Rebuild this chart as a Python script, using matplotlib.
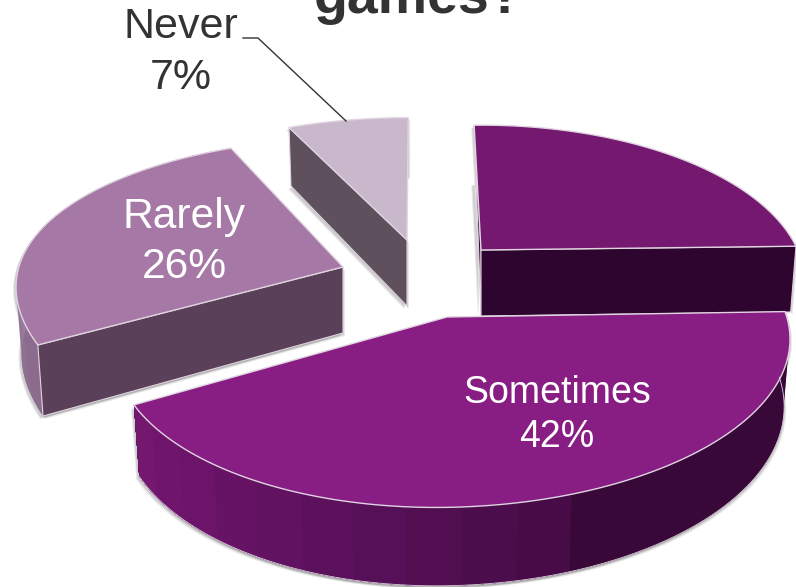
#!/usr/bin/python3
import numpy as np
import matplotlib
matplotlib.use('Agg')
import matplotlib.pyplot as plt
from matplotlib.patches import Polygon

# share of answers, clockwise from twelve o'clock; first slice has no label
categories = ["", "Sometimes", "Rarely", "Never"]
shares = [25, 42, 26, 7]

title = "games?"

# slice layout in pixels: apex of the top face, radii and perspective
apex_x = [481, 447, 343, 407]
apex_y = [250, 317, 267, 240]
radius_right = [315, 338, 313, 313]
radius_left = [315, 328, 313, 333]
radius_y = [151, 158, 154, 148]
perspective = [0.21, 0.17, 0.21, 0.21]
shear_x = [0.055, 0.0, 0.0, -0.01]
shear_y = [-0.012, -0.016, 0.015, 0.0]
bulge = [0.0, 0.0, 0.037, 0.0]

top_colors = ["#751870", "#881d83", "#a678a5", "#c9b8cc"]
face_colors = ["#2e052f", "#2e052f", "#5a4058", "#5e505c"]
edge_color = "#e0d4e0"

# depth of the pie and how the lower rim differs from the upper one
depth = 66
bottom_scale_x = 0.983
bottom_scale_y = 1.065

# wall shading by angle in degrees, stepped like a faceted render
wall_stops = {
    1: ([0, 70, 75, 100, 130, 152], ["#380838", "#380838", "#460c46", "#561058", "#6a1468", "#751870"]),
    2: ([152, 180, 200], ["#8a6a8c", "#9a7a9c", "#9a7a9c"]),
}


def slice_offsets(i, theta, start, end):
    t = np.radians(theta)
    s = 1.0 / (1.0 - perspective[i] * np.sin(t))
    rx = np.where(np.cos(t) >= 0, radius_right[i], radius_left[i])
    swell = 1.0 + bulge[i] * np.sin(np.pi * (theta - start) / (end - start))
    x = rx * np.cos(t) * s * swell
    y = radius_y[i] * np.sin(t) * s
    return x + shear_x[i] * y, y + shear_y[i] * x


def top_rim(i, theta, start, end):
    x, y = slice_offsets(i, theta, start, end)
    return apex_x[i] + x, apex_y[i] + y


def bottom_rim(i, theta, start, end):
    x, y = slice_offsets(i, theta, start, end)
    return apex_x[i] + x * bottom_scale_x, apex_y[i] + depth + y * bottom_scale_y


def wall_color(i, theta):
    angles, colors = wall_stops[i]
    rgb = np.array([matplotlib.colors.to_rgb(c) for c in colors])
    return [np.interp(theta % 360, angles, rgb[:, k]) for k in range(3)]


def draw_shadow(ax, xs, ys):
    pts = np.column_stack([xs, ys])
    for off, alpha in [((-3, 3), 0.12), ((-2, 2), 0.18), ((2, 3), 0.12), ((1, 2), 0.18)]:
        ax.add_patch(Polygon(pts + np.array(off), closed=True, fc="#555555", ec="none", alpha=alpha))


def draw_wall(ax, i, start, end):
    # curved outer wall in bands; each band runs on to the end of the wall
    # and the next one paints over it, so no seams show
    step = 8.0
    edges = np.arange(start, end, step)
    for a in edges:
        thetas = np.linspace(a, end, 80)
        tx, ty = top_rim(i, thetas, start, end)
        bx, by = bottom_rim(i, thetas, start, end)
        pts = np.column_stack([np.r_[tx, bx[::-1]], np.r_[ty, by[::-1]]])
        color = wall_color(i, a + step / 2)
        ax.add_patch(Polygon(pts, closed=True, fc=color, ec="none"))


def draw_radial_face(ax, i, theta, start, end, back_corner=True):
    tx, ty = top_rim(i, theta, start, end)
    bx, by = bottom_rim(i, theta, start, end)
    pts = [(apex_x[i], apex_y[i]), (tx, ty)]
    if back_corner:
        pts.append((bx, by))
    pts.append((apex_x[i], apex_y[i] + depth))
    ax.add_patch(Polygon(pts, closed=True, fc=face_colors[i], ec=edge_color, lw=0.8))


def draw_slice(ax, i, start, end):
    thetas = np.linspace(start, end, 120)
    tx, ty = top_rim(i, thetas, start, end)
    bx, by = bottom_rim(i, thetas, start, end)

    # soft shadow under the solid
    sx = np.r_[apex_x[i], tx, bx[::-1], apex_x[i]]
    sy = np.r_[apex_y[i], ty, by[::-1], apex_y[i] + depth]
    draw_shadow(ax, sx, sy)

    if i in wall_stops:
        draw_wall(ax, i, start, end)
        if i == 1:
            ax.plot(bx, by, color=edge_color, lw=0.6)
    if i == 0:
        draw_radial_face(ax, i, start, start, end, back_corner=False)
        draw_radial_face(ax, i, end, start, end)
    if i >= 2:
        draw_radial_face(ax, i, start, start, end)

    top = np.column_stack([np.r_[apex_x[i], tx], np.r_[apex_y[i], ty]])
    ax.add_patch(Polygon(top, closed=True, fc=top_colors[i], ec=edge_color, lw=1.0, joinstyle="round"))


def put_label(ax, x, y, name, share, size, spacing, color):
    ax.text(x, y, name, ha="center", va="baseline", fontsize=size, color=color)
    ax.text(x, y + spacing, str(share) + "%", ha="center", va="baseline", fontsize=size, color=color)


plt.rcParams['font.family'] = ['Liberation Sans', 'DejaVu Sans']

fig = plt.figure(figsize=(7.96, 5.87), dpi=100)
ax = fig.add_axes([0, 0, 1, 1])
ax.set_xlim(0, 796)
ax.set_ylim(587, 0)
ax.axis("off")

# slices run clockwise on screen, the first one starts straight up
starts = 270 + np.cumsum([0] + shares[:-1]) * 3.6
ends = starts + np.array(shares) * 3.6

# back to front
for i in [0, 3, 2, 1]:
    draw_slice(ax, i, starts[i], ends[i])

ax.text(419, 13, title, ha="center", va="baseline", fontsize=40, fontweight="bold", color="#333333")

put_label(ax, 557, 403, categories[1], shares[1], 27, 44, "white")
put_label(ax, 184, 228, categories[2], shares[2], 30.7, 50, "white")
put_label(ax, 181, 38, categories[3], shares[3], 31, 51, "#333333")

# leader line for the label outside the slice
ax.plot([243, 258, 346], [38, 38, 121], color="#333333", lw=1.0)

fig.savefig("out.png", dpi=100)
